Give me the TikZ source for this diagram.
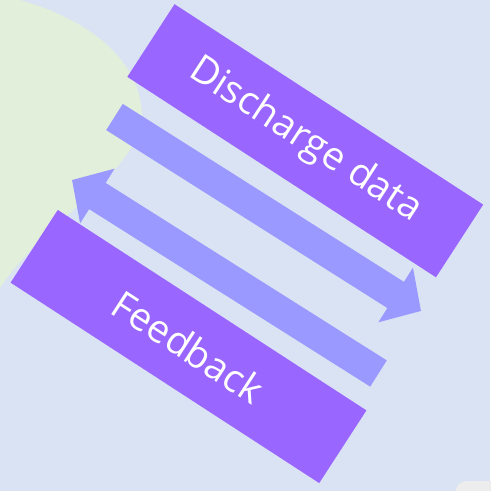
\documentclass[tikz,border=0pt]{standalone}
\usepackage{fontspec}
\setmainfont{Open Sans}
\usetikzlibrary{arrows.meta}

\definecolor{bgblue}{RGB}{218,227,243}
\definecolor{blobgreen}{RGB}{226,239,218}
\definecolor{boxpurple}{RGB}{153,102,255}
\definecolor{flowblue}{RGB}{153,153,255}
\definecolor{cornergray}{RGB}{237,237,237}

\tikzset{every picture/.style={line width=0.75pt}}
\tikzset{
  databox/.style={fill=boxpurple, draw=none, rotate=-33, minimum width=276pt, minimum height=65pt, inner sep=0.75pt, text=white, font=\fontsize{29}{34}\selectfont},
  flowarrow/.style={draw=flowblue, line width=23.25pt, -{Triangle[width=47.25pt,length=22.5pt]}}
}

\begin{document}
\begin{tikzpicture}[x=0.75pt,y=0.75pt,yscale=-1,xscale=1]
\useasboundingbox (0,0) rectangle (490,491);

%Background
\fill [bgblue] (0,0) rectangle (490,491) ;
%Shape: Blob
\fill [blobgreen] (-5,-5) -- (20,0) .. controls (90,20) and (140,60) .. (142,115) .. controls (142,170) and (40,225) .. (0,288) -- (-5,295) -- cycle ;
%Shape: Corner
\fill [cornergray, rounded corners=9] (455,481) rectangle (510,510) ;

% Boxes
\node [databox] (discharge) at (305.25,140.75) {Discharge data};
\node [databox] (feedback) at (188.5,346.5) {Feedback};

% Arrows
\coordinate (discharge tail) at (114.5,117) ;
\coordinate (discharge tip) at (421,311) ;
\coordinate (feedback tail) at (378.5,373.5) ;
\coordinate (feedback tip) at (72,180) ;
\draw [flowarrow] (discharge tail) -- (discharge tip) ;
\draw [flowarrow] (feedback tail) -- (feedback tip) ;

\end{tikzpicture}
\end{document}
